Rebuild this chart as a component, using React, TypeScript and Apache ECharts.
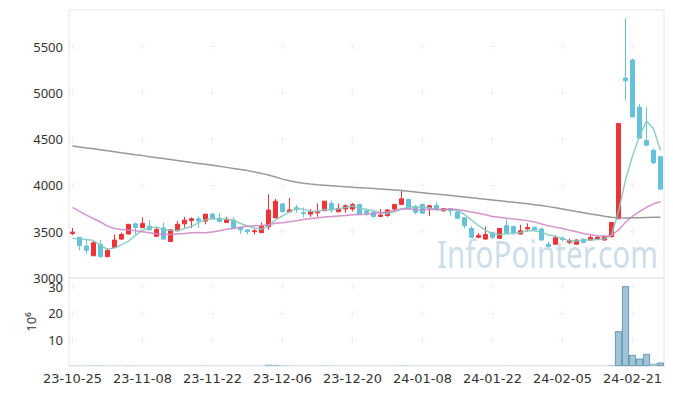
import React, { useEffect, useRef } from 'react';
import * as echarts from 'echarts';

const dates = [
  '23-10-25','23-10-26','23-10-27','23-10-30','23-10-31',
  '23-11-01','23-11-02','23-11-03','23-11-06','23-11-07','23-11-08','23-11-09','23-11-10','23-11-13','23-11-14','23-11-15','23-11-16','23-11-17','23-11-20','23-11-21','23-11-22','23-11-23','23-11-24','23-11-27','23-11-28','23-11-29','23-11-30',
  '23-12-01','23-12-04','23-12-05','23-12-06','23-12-07','23-12-08','23-12-11','23-12-12','23-12-13','23-12-14','23-12-15','23-12-18','23-12-19','23-12-20','23-12-21','23-12-22','23-12-26','23-12-27','23-12-28',
  '24-01-02','24-01-03','24-01-04','24-01-05','24-01-08','24-01-09','24-01-10','24-01-11','24-01-12','24-01-15','24-01-16','24-01-17','24-01-18','24-01-19','24-01-22','24-01-23','24-01-24','24-01-25','24-01-26','24-01-29','24-01-30','24-01-31',
  '24-02-01','24-02-02','24-02-05','24-02-06','24-02-07','24-02-08','24-02-13','24-02-14','24-02-15','24-02-16','24-02-19','24-02-20','24-02-21','24-02-22','24-02-23','24-02-26','24-02-27'
];

const opens = [
  3480,3440,3345,3240,3365,3230,3330,3420,3475,3585,
  3545,3560,3450,3540,3395,3510,3585,3620,3640,3615,
  3690,3645,3600,3625,3545,3520,3500,3490,3555,3650,
  3800,3715,3760,3705,3690,3705,3727,3805,3715,3745,
  3745,3795,3725,3710,3665,3675,3745,3795,3850,3770,
  3795,3755,3785,3725,3750,3715,3650,3535,3440,3420,
  3490,3430,3565,3555,3475,3530,3545,3530,3365,3365,
  3430,3385,3365,3420,3410,3420,3410,3445,3640,5160,
  5355,4845,4485,4380,4310
];
const closes = [
  3495,3350,3300,3380,3230,3300,3410,3470,3580,3545,
  3590,3520,3525,3420,3520,3580,3625,3640,3615,3690,
  3640,3610,3630,3545,3520,3500,3510,3560,3735,3830,
  3715,3735,3740,3695,3715,3715,3830,3735,3750,3780,
  3795,3690,3700,3665,3680,3735,3795,3855,3750,3710,
  3700,3780,3745,3750,3725,3645,3565,3440,3460,3470,
  3440,3535,3485,3490,3510,3545,3520,3410,3340,3435,
  3415,3405,3410,3385,3440,3440,3445,3600,4670,5130,
  4740,4510,4435,4245,3960
];
const lows = [
  3465,3300,3260,3240,3220,3225,3325,3415,3470,3475,
  3540,3515,3445,3415,3390,3505,3545,3540,3540,3580,
  3635,3605,3595,3530,3480,3470,3470,3485,3520,3645,
  3710,3710,3705,3655,3660,3660,3725,3705,3710,3705,
  3720,3690,3665,3650,3660,3660,3715,3790,3750,3690,
  3690,3670,3740,3720,3675,3640,3535,3435,3430,3415,
  3420,3425,3480,3465,3470,3500,3515,3400,3335,3360,
  3395,3365,3360,3375,3400,3410,3405,3440,3640,4920,
  4740,4505,4420,4230,3955
];
const highs = [
  3540,3440,3410,3400,3410,3320,3470,3490,3580,3600,
  3655,3625,3545,3600,3530,3615,3660,3655,3665,3690,
  3705,3700,3660,3655,3545,3520,3530,3600,3905,3855,
  3810,3865,3790,3760,3745,3805,3832,3840,3805,3795,
  3810,3800,3735,3720,3745,3745,3800,3940,3855,3790,
  3805,3790,3820,3755,3755,3720,3655,3560,3485,3555,
  3495,3540,3635,3565,3575,3590,3560,3545,3390,3460,
  3450,3425,3415,3425,3460,3450,3460,3600,4670,5805,
  5370,4880,4845,4400,4320
];
// volume in millions of shares
const volumes = [
  0.12,0.15,0.10,0.18,0.20,0.10,0.14,0.09,0.16,0.11,
  0.13,0.10,0.08,0.12,0.10,0.14,0.12,0.09,0.08,0.13,
  0.10,0.09,0.08,0.11,0.09,0.07,0.08,0.12,0.55,0.45,
  0.20,0.15,0.10,0.09,0.08,0.10,0.16,0.12,0.09,0.10,
  0.11,0.09,0.08,0.07,0.08,0.09,0.12,0.18,0.12,0.09,
  0.10,0.08,0.09,0.07,0.08,0.10,0.12,0.14,0.08,0.09,
  0.08,0.10,0.12,0.09,0.08,0.09,0.07,0.10,0.09,0.08,
  0.07,0.06,0.07,0.06,0.08,0.07,0.08,0.30,13.2,30.3,
  4.2,2.8,4.6,0.9,1.3
];
// moving-average values before enough history is on the chart
const ma5Early = [3430, 3420, 3415, 3405];
const ma20Early = [
  3762,3720,3680,3640,3605,3560,3535,3525,3518,3510,
  3500,3490,3478,3472,3470,3475,3480,3488,3492
];
const ma120 = [
  4425,4415,4405,4395,4385,4374,4364,4353,4343,4332,
  4322,4311,4300,4290,4280,4270,4259,4248,4238,4228,
  4217,4206,4195,4184,4172,4160,4146,4130,4112,4090,
  4068,4050,4035,4024,4015,4008,4002,3996,3990,3985,
  3980,3976,3971,3967,3962,3957,3951,3945,3938,3930,
  3922,3914,3906,3898,3890,3882,3874,3866,3858,3850,
  3842,3834,3826,3818,3810,3801,3792,3782,3771,3758,
  3745,3732,3718,3705,3692,3680,3668,3657,3650,3648,
  3650,3652,3654,3655,3656
];
const priceTicks = [3500, 4000, 4500, 5000, 5500];
const volumeTicks = [10, 20, 30];
const labelStep = 10;

function movingAverage(values: number[], n: number, early: number[]) {
  return values.map((_, i) => {
    if (i < n - 1) return early[i];
    let s = 0;
    for (let k = i - n + 1; k <= i; k++) s += values[k];
    return Math.round((s / n) * 10) / 10;
  });
}

const CROSS = 'path://M4,0h1v4h4v1h-4v4h-1v-4h-4v-1h4z';

export default function App() {
  const ref = useRef<HTMLDivElement>(null);
  useEffect(() => {
    document.body.style.margin = '0';
    document.body.style.overflow = 'hidden';
    const chart = echarts.init(ref.current as HTMLDivElement, null, { renderer: 'svg' });
    const candles = dates.map((_, i) => [opens[i], closes[i], lows[i], highs[i]]);
    const ma5 = movingAverage(closes, 5, ma5Early);
    const ma20 = movingAverage(closes, 20, ma20Early);
    const markIdx = dates.map((_, i) => i).filter((i) => i % labelStep === 0);
    const priceMarks: any[] = [];
    markIdx.forEach((i) => priceTicks.forEach((v) => priceMarks.push([dates[i], v])));
    const volMarks: any[] = [];
    markIdx.forEach((i) => volumeTicks.forEach((v) => volMarks.push([dates[i], v])));
    const volData = volumes.map((v) => ({
      value: v,
      itemStyle: v >= 1 ? { borderColor: '#4f89a6', borderWidth: 0.8 } : { borderWidth: 0 },
    }));
    const labelFont = 'Noto Sans';
    const plain = (v: number) => String(v);

    chart.setOption({
      animation: false,
      grid: [
        { left: 69, right: 9, top: 10, height: 268, show: true, borderColor: '#e6e6e6', borderWidth: 1, backgroundColor: 'transparent' },
        { left: 69, right: 9, top: 278, height: 88, show: true, borderColor: '#e6e6e6', borderWidth: 1, backgroundColor: 'transparent' },
      ],
      xAxis: [
        {
          type: 'category', gridIndex: 0, data: dates, boundaryGap: true,
          axisLine: { show: false }, axisTick: { show: false }, axisLabel: { show: false }, splitLine: { show: false },
        },
        {
          type: 'category', gridIndex: 1, data: dates, boundaryGap: true,
          axisLine: { show: false }, axisTick: { show: false }, splitLine: { show: false },
          axisLabel: {
            interval: (i: number) => i % labelStep === 0,
            color: '#333', fontSize: 13, margin: 6, fontFamily: 'DejaVu Sans',
          },
        },
      ],
      yAxis: [
        {
          type: 'value', gridIndex: 0, min: 3000, max: 5895, interval: 500,
          axisLine: { show: false }, axisTick: { show: false }, splitLine: { show: false },
          axisLabel: { formatter: plain, showMaxLabel: false, color: '#333', fontSize: 13, margin: 6, fontFamily: labelFont },
        },
        {
          type: 'value', gridIndex: 1, min: 0, max: 33.4, interval: 10,
          name: '10⁶', nameLocation: 'middle', nameGap: 29, nameRotate: 90,
          nameTextStyle: { color: '#333', fontSize: 13, fontFamily: labelFont },
          axisLine: { show: false }, axisTick: { show: false }, splitLine: { show: false },
          axisLabel: { formatter: plain, showMaxLabel: false, showMinLabel: false, color: '#333', fontSize: 13, margin: 6, fontFamily: labelFont },
        },
      ],
      graphic: [
        {
          type: 'text', x: 437, y: 233, scaleX: 0.76, z: 0, silent: true,
          style: { text: 'InfoPointer.com', fontSize: 39, fontFamily: 'Noto Sans', fill: 'rgba(170,200,220,0.62)' },
        },
      ],
      series: [
        {
          type: 'scatter', xAxisIndex: 0, yAxisIndex: 0, data: priceMarks, symbol: CROSS, symbolSize: 7,
          itemStyle: { color: '#e9e9e9' }, silent: true, z: 1,
        },
        {
          type: 'scatter', xAxisIndex: 1, yAxisIndex: 1, data: volMarks, symbol: CROSS, symbolSize: 7,
          itemStyle: { color: '#e9e9e9' }, silent: true, z: 1,
        },
        {
          type: 'candlestick', xAxisIndex: 0, yAxisIndex: 0, data: candles, barWidth: 5,
          itemStyle: { color: '#ee3338', color0: '#66c1da', borderColor: '#ee3338', borderColor0: '#66c1da', borderWidth: 1 },
        },
        {
          type: 'line', xAxisIndex: 0, yAxisIndex: 0, data: ma5, showSymbol: false, symbol: 'none',
          lineStyle: { color: '#84cabf', width: 1.5, opacity: 0.9 },
        },
        {
          type: 'line', xAxisIndex: 0, yAxisIndex: 0, data: ma20, showSymbol: false, symbol: 'none',
          lineStyle: { color: '#cf88c6', width: 1.5, opacity: 0.9 },
        },
        {
          type: 'line', xAxisIndex: 0, yAxisIndex: 0, data: ma120, showSymbol: false, symbol: 'none',
          lineStyle: { color: '#999999', width: 1.5 },
        },
        {
          type: 'bar', xAxisIndex: 1, yAxisIndex: 1, data: volData, barCategoryGap: '0%',
          itemStyle: { color: 'rgba(120,170,196,0.7)' },
        },
      ],
    });
    return () => chart.dispose();
  }, []);
  return <div ref={ref} style={{ width: 673, height: 396 }} />;
}
